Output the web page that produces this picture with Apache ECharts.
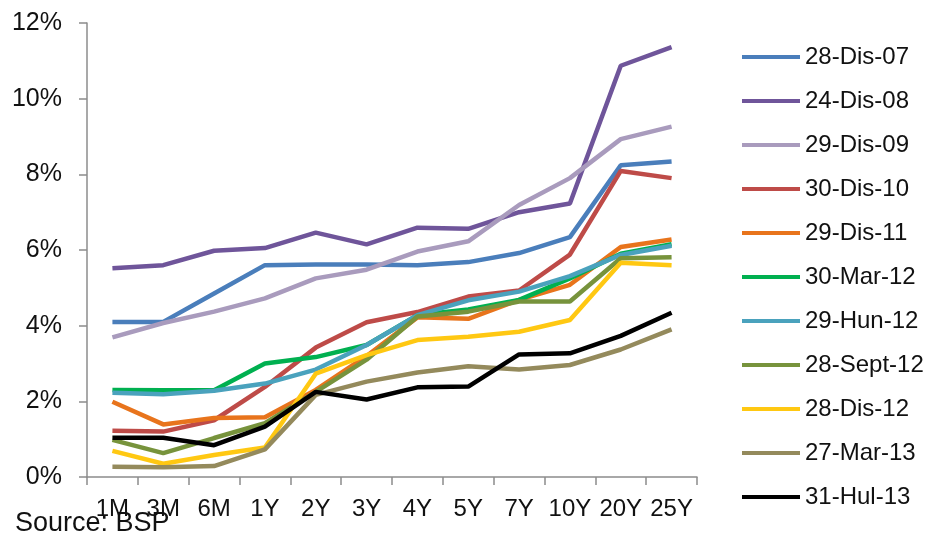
<!DOCTYPE html>
<html>
<head>
<meta charset="utf-8">
<script src="https://cdn.jsdelivr.net/npm/echarts@6/dist/echarts.min.js"></script>
<style>
  html, body { margin: 0; padding: 0; background: #fff; }
  #chart { width: 938px; height: 533px; }
</style>
</head>
<body>
<div id="chart"></div>
<script>
// Tenors along the yield curve
const tenors = ['1M', '3M', '6M', '1Y', '2Y', '3Y', '4Y', '5Y', '7Y', '10Y', '20Y', '25Y'];

// Yield curves (percent) by observation date
const dis07  = [4.10, 4.10, 4.85, 5.60, 5.62, 5.62, 5.60, 5.68, 5.92, 6.34, 8.24, 8.34];
const dis08  = [5.52, 5.60, 5.98, 6.05, 6.46, 6.15, 6.59, 6.56, 7.00, 7.23, 10.87, 11.36];
const dis09  = [3.69, 4.07, 4.37, 4.72, 5.25, 5.48, 5.96, 6.23, 7.19, 7.90, 8.93, 9.26];
const dis10  = [1.22, 1.20, 1.50, 2.38, 3.42, 4.09, 4.36, 4.77, 4.93, 5.88, 8.09, 7.90];
const dis11  = [1.99, 1.39, 1.56, 1.58, 2.30, 3.20, 4.22, 4.18, 4.68, 5.08, 6.08, 6.28];
const mar12  = [2.30, 2.29, 2.29, 3.00, 3.17, 3.49, 4.28, 4.43, 4.68, 5.25, 5.90, 6.15];
const hun12  = [2.23, 2.19, 2.28, 2.47, 2.84, 3.49, 4.28, 4.67, 4.90, 5.31, 5.87, 6.11];
const sept12 = [0.98, 0.63, 1.03, 1.42, 2.25, 3.10, 4.24, 4.37, 4.64, 4.64, 5.78, 5.81];
const dis12  = [0.69, 0.35, 0.58, 0.78, 2.73, 3.22, 3.62, 3.71, 3.84, 4.15, 5.66, 5.60];
const mar13  = [0.27, 0.26, 0.29, 0.73, 2.17, 2.52, 2.76, 2.93, 2.84, 2.96, 3.37, 3.90];
const hul13  = [1.04, 1.04, 0.84, 1.33, 2.25, 2.05, 2.37, 2.39, 3.24, 3.27, 3.73, 4.34];

// Y axis range and step (percent)
const yMin = 0, yMax = 12, yStep = 2;

const curves = [
  { name: '28-Dis-07',  data: dis07,  color: '#4a7ebb' },
  { name: '24-Dis-08',  data: dis08,  color: '#6f559a' },
  { name: '29-Dis-09',  data: dis09,  color: '#a99bbd' },
  { name: '30-Dis-10',  data: dis10,  color: '#be4b48' },
  { name: '29-Dis-11',  data: dis11,  color: '#e8741c' },
  { name: '30-Mar-12',  data: mar12,  color: '#00b050' },
  { name: '29-Hun-12',  data: hun12,  color: '#4aa2bd' },
  { name: '28-Sept-12', data: sept12, color: '#77933c' },
  { name: '28-Dis-12',  data: dis12,  color: '#ffc812' },
  { name: '27-Mar-13',  data: mar13,  color: '#948a5c' },
  { name: '31-Hul-13',  data: hul13,  color: '#000000' }
];

const font = '"Liberation Sans", Arial, sans-serif';
const chart = echarts.init(document.getElementById('chart'), null, { renderer: 'canvas' });

chart.setOption({
  animation: false,
  backgroundColor: '#ffffff',
  grid: { left: 87, right: 241, top: 23, bottom: 56, containLabel: false },
  legend: {
    orient: 'vertical',
    left: 737,
    top: 40,
    icon: 'rect',
    itemWidth: 58,
    itemHeight: 4,
    itemGap: 20,
    textStyle: { fontFamily: font, fontSize: 24, color: '#111', lineHeight: 24 },
    data: curves.map(c => c.name)
  },
  xAxis: {
    type: 'category',
    data: tenors,
    boundaryGap: true,
    axisLine: { lineStyle: { color: '#8c8c8c', width: 1.5 } },
    axisTick: { show: true, length: 8, lineStyle: { color: '#8c8c8c', width: 1.5 } },
    axisLabel: { fontFamily: font, fontSize: 24, color: '#111', margin: 20, interval: 0 }
  },
  yAxis: {
    type: 'value',
    min: yMin,
    max: yMax,
    interval: yStep,
    splitLine: { show: false },
    axisLine: { show: true, lineStyle: { color: '#8c8c8c', width: 1.5 } },
    axisTick: { show: true, length: 8, lineStyle: { color: '#8c8c8c', width: 1.5 } },
    axisLabel: { fontFamily: font, fontSize: 25, color: '#111', margin: 25, formatter: '{value}%' }
  },
  series: curves.map(c => ({
    name: c.name,
    type: 'line',
    data: c.data,
    symbol: 'none',
    smooth: false,
    lineStyle: { color: c.color, width: 4.5 },
    itemStyle: { color: c.color }
  })),
  graphic: [{
    type: 'text',
    left: 15,
    top: 510,
    style: { text: 'Source: BSP', font: '27px ' + font, fill: '#111' }
  }]
});
</script>
</body>
</html>
